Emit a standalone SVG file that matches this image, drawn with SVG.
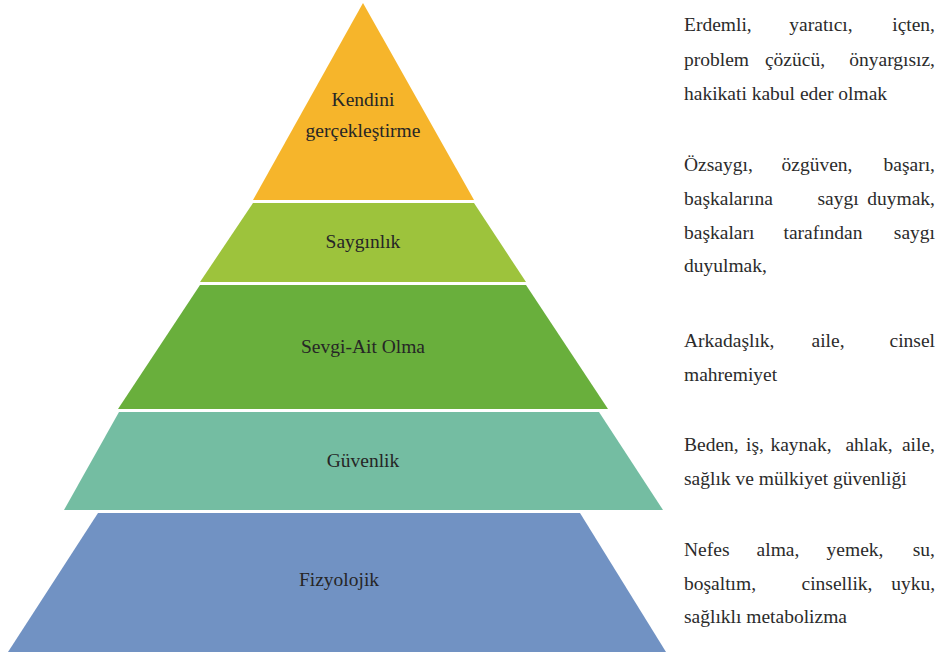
<svg xmlns="http://www.w3.org/2000/svg" width="941" height="655" viewBox="0 0 941 655" font-family="'Liberation Serif', serif">
<style>
text{font-family:'Liberation Serif',serif;font-size:19.5px;fill:#2b2b2b}
.lbl{text-anchor:middle;fill:#262626}
.m{text-anchor:middle}
.e{text-anchor:end}
</style>
<rect width="941" height="655" fill="#ffffff"/>
<g id="connectors"/>
<g id="kendini">
<polygon points="363,3 474,200 253,200" fill="#F6B52B"/>
<text class="lbl" x="363" y="106">Kendini</text>
<text class="lbl" x="363" y="137">gerçekleştirme</text>
<text x="684" y="31">Erdemli,</text><text class="m" x="821" y="31">yaratıcı,</text><text class="e" x="935" y="31">içten,</text>
<text x="684" y="65.5">problem</text><text class="m" x="795" y="65.5">çözücü,</text><text class="e" x="935" y="65.5">önyargısız,</text>
<text x="684" y="100">hakikati kabul eder olmak</text>
</g>
<g id="saygin">
<polygon points="253,203 474,203 526,282 200,282" fill="#9DC33C"/>
<text class="lbl" x="363" y="248">Saygınlık</text>
<text x="684" y="171">Özsaygı,</text><text class="m" x="817" y="171">özgüven,</text><text class="e" x="935" y="171">başarı,</text>
<text x="684" y="205">başkalarına</text><text class="m" x="838" y="205">saygı</text><text class="e" x="935" y="205">duymak,</text>
<text x="684" y="238.5">başkaları</text><text class="m" x="823" y="238.5">tarafından</text><text class="e" x="935" y="238.5">saygı</text>
<text x="684" y="272">duyulmak,</text>
</g>
<g id="sevgi">
<polygon points="200,285 526,285 608,409 118,409" fill="#69AF3C"/>
<text class="lbl" x="363" y="353">Sevgi-Ait Olma</text>
<text x="684" y="347">Arkadaşlık,</text><text class="m" x="828" y="347">aile,</text><text class="e" x="935" y="347">cinsel</text>
<text x="684" y="381">mahremiyet</text>
</g>
<g id="guvenlik">
<polygon points="119,412 599,412 663,510 64,510" fill="#74BDA2"/>
<text class="lbl" x="363" y="467">Güvenlik</text>
<text x="684" y="451">Beden,</text><text class="m" x="755" y="451">iş,</text><text class="m" x="801" y="451">kaynak,</text><text class="m" x="869" y="451">ahlak,</text><text class="e" x="935" y="451">aile,</text>
<text x="684" y="485">sağlık ve mülkiyet güvenliği</text>
</g>
<g id="fizyolojik">
<polygon points="98,513 580,513 666,652 8,652" fill="#7192C3"/>
<text class="lbl" x="339" y="586">Fizyolojik</text>
<text x="684" y="556">Nefes</text><text class="m" x="778" y="556">alma,</text><text class="m" x="855" y="556">yemek,</text><text class="e" x="935" y="556">su,</text>
<text x="684" y="590">boşaltım,</text><text class="m" x="837" y="590">cinsellik,</text><text class="e" x="935" y="590">uyku,</text>
<text x="684" y="623">sağlıklı metabolizma</text>
</g>
</svg>
